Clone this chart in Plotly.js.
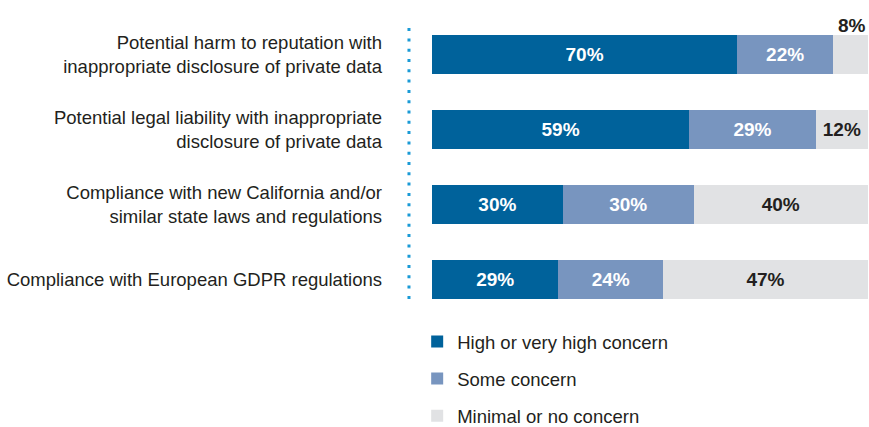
<!DOCTYPE html>
<html>
<head>
<meta charset="utf-8">
<script src="https://cdn.plot.ly/plotly-3.0.1.min.js"></script>
<style>
html,body{margin:0;padding:0;background:#fff;}
#chart{width:869px;height:427px;}
</style>
</head>
<body>
<div id="chart"></div>
<script>
const categories = [
  "Potential harm to reputation with<br>inappropriate disclosure of private data",
  "Potential legal liability with inappropriate<br>disclosure of private data",
  "Compliance with new California and/or<br>similar state laws and regulations",
  "Compliance with European GDPR regulations"
];
const seriesNames = ["High or very high concern", "Some concern", "Minimal or no concern"];
const highConcern = [70, 59, 30, 29];
const someConcern = [22, 29, 30, 24];
const minimalConcern = [8, 12, 40, 47];

const seriesValues = [highConcern, someConcern, minimalConcern];
const colors = ["#00629b", "#7895bf", "#e1e2e4"];
const textColors = ["#ffffff", "#ffffff", "#231f20"];
const FONT = "'Liberation Sans', Arial, sans-serif";

const traces = seriesValues.map((vals, i) => ({
  type: "bar",
  orientation: "h",
  name: seriesNames[i],
  legendgroup: "g" + i,
  y: categories,
  x: vals,
  width: 0.52,
  marker: {color: colors[i], line: {width: 0}},
  text: vals.map(v => v >= 10 ? v + "%" : ""),
  texttemplate: "%{text}",
  textposition: "inside",
  insidetextanchor: "middle",
  constraintext: "none",
  textfont: {family: FONT, size: 19, color: textColors[i], weight: 700},
  hoverinfo: "skip"
}));

// small segments: label placed above the bar end
const annotations = [];
minimalConcern.forEach((v, j) => {
  if (v < 10) {
    annotations.push({
      x: 100, y: categories[j], xref: "x", yref: "y",
      text: "<b>" + v + "%</b>", showarrow: false,
      xanchor: "right", yanchor: "bottom", yshift: 17,
      font: {family: FONT, size: 19, color: "#231f20"}
    });
  }
});

const layout = {
  width: 869, height: 427,
  margin: {l: 432, r: 1, t: 17, b: 110, autoexpand: false},
  paper_bgcolor: "#fff", plot_bgcolor: "#fff",
  barmode: "stack",
  showlegend: true,
  legend: {
    orientation: "v", x: -0.034, xanchor: "left", y: -0.02, yanchor: "top",
    font: {family: FONT, size: 18.5, color: "#231f20"},
    tracegroupgap: 10, traceorder: "grouped", bgcolor: "rgba(0,0,0,0)"
  },
  xaxis: {range: [0, 100], visible: false, fixedrange: true},
  yaxis: {
    type: "category", autorange: false, range: [3.5, -0.5],
    showgrid: false, zeroline: false, showline: false, ticks: "",
    ticklabelstandoff: 49,
    tickfont: {family: FONT, size: 18.5, color: "#231f20"}
  },
  shapes: [{
    type: "line", xref: "paper", yref: "paper",
    x0: -0.0528, x1: -0.0528, y0: 0.963, y1: 0.057,
    line: {color: "#1a9ad6", width: 3, dash: "3px,7.3px"}
  }],
  annotations: annotations
};

Plotly.newPlot("chart", traces, layout, {displayModeBar: false, staticPlot: true});
</script>
</body>
</html>
